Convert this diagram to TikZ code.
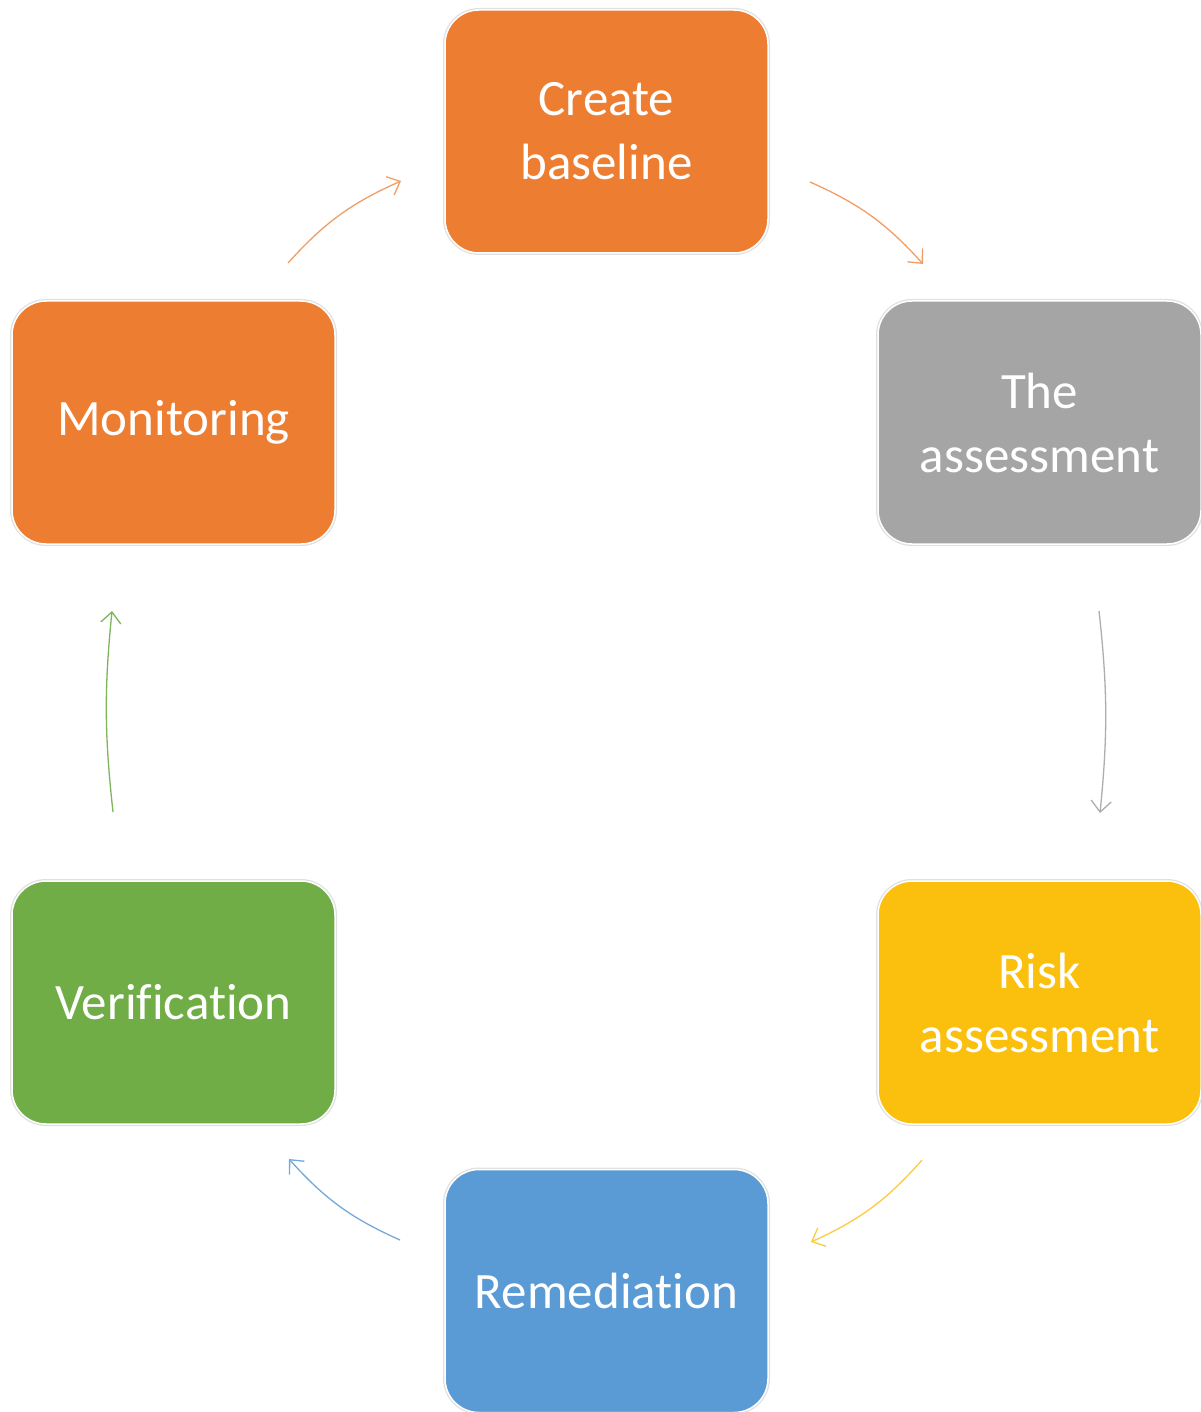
\documentclass[tikz,border=0pt]{standalone}
\usepackage{fontspec}
\setmainfont{Carlito}[Ligatures={CommonOff,ContextualOff}]
\usetikzlibrary{arrows.meta}
\definecolor{corange}{HTML}{ED7D31}
\definecolor{cgray}{HTML}{A5A5A5}
\definecolor{cyellow}{HTML}{FBBF0E}
\definecolor{cblue}{HTML}{5B9BD5}
\definecolor{cgreen}{HTML}{70AD47}
\tikzset{
  stepbox/.style={rounded corners=34pt, minimum width=323pt, minimum height=243pt,
    inner sep=0pt, text=white, align=center,
    font=\fontsize{51}{64}\selectfont,
    draw=white, line width=1.5pt,
    preaction={draw=black!12, line width=4pt}},
  flow/.style={line width=1.3pt, -{Straight Barb[length=11pt,width=20pt,line width=1.3pt]}},
}
\begin{document}
\begin{tikzpicture}[x=1pt,y=-1pt]
\useasboundingbox (0,0) rectangle (1200,1412);
\fill[white] (0,0) rectangle (1200,1412);
\node[stepbox, fill=corange] (cb) at (606.5,131.5) {Create\\baseline};
\node[stepbox, fill=cgray] (ta) at (1039.5,422.5) {The\\assessment};
\node[stepbox, fill=cyellow] (ra) at (1039.5,1002.5) {Risk\\assessment};
\node[stepbox, fill=cblue] (re) at (606.5,1291) {Remediation};
\node[stepbox, fill=cgreen] (ve) at (173.5,1002.5) {Verification};
\node[stepbox, fill=corange] (mo) at (173.5,422.5) {Monitoring};
\coordinate (a1s) at (288,263);  \coordinate (a1e) at (401,181);
\coordinate (a2s) at (810,182);  \coordinate (a2e) at (923,264);
\coordinate (a3s) at (1099,611); \coordinate (a3e) at (1100,813);
\coordinate (a4s) at (922,1160); \coordinate (a4e) at (811,1242);
\coordinate (a5s) at (400,1240); \coordinate (a5e) at (289,1159);
\coordinate (a6s) at (113,812);  \coordinate (a6e) at (112,611);
\draw[flow, corange!75] (a1s) to[bend left=12] (a1e);
\draw[flow, corange!75] (a2s) to[bend left=12] (a2e);
\draw[flow, cgray!90] (a3s) to[bend left=6] (a3e);
\draw[flow, cyellow!80] (a4s) to[bend left=12] (a4e);
\draw[flow, cblue!85] (a5s) to[bend left=12] (a5e);
\draw[flow, cgreen!90] (a6s) to[bend left=6] (a6e);
\end{tikzpicture}
\end{document}
